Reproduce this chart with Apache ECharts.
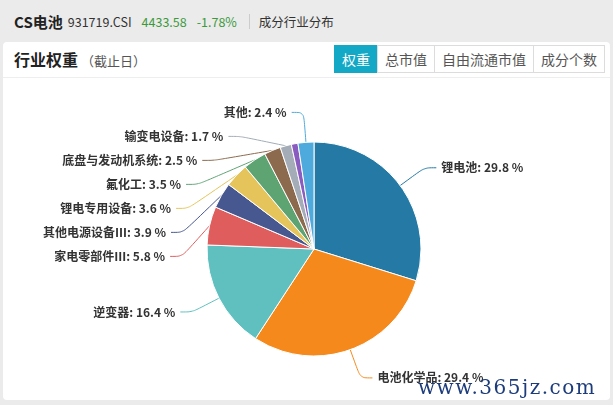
<!DOCTYPE html>
<html><head><meta charset="utf-8">
<script src="https://cdn.jsdelivr.net/npm/echarts@6/dist/echarts.min.js"></script>
<style>
html,body{margin:0;padding:0;background:#ebebeb;width:613px;height:405px;overflow:hidden;font-family:"Noto Sans CJK SC","Noto Sans",sans-serif;}
#top{position:absolute;left:14px;top:9px;height:20px;line-height:20px;white-space:nowrap;color:#333;}
#top span{display:inline-block;vertical-align:middle}
#panel{position:absolute;left:3px;top:42px;width:607px;height:358px;background:#fff;border-radius:4px;}
#hd{position:absolute;left:0;top:0;width:607px;height:35px;border-bottom:1px solid #eeeeee;}
#ttl{position:absolute;left:11px;top:5px;font-size:16px;font-weight:bold;color:#222;}
#ttl small{font-size:13px;font-weight:normal;color:#555;}
#btns{position:absolute;right:5px;top:3px;display:flex;}
#btns div{height:26px;line-height:26px;padding:0 7px;font-size:14px;color:#555;border:1px solid #dcdcdc;margin-left:-1px;background:#fff}
#btns div.on{background:#12a8c6;color:#fff;border-color:#12a8c6}
#chart{position:absolute;left:0;top:0;width:613px;height:405px;}
#wm{position:absolute;left:418px;top:375px;font-family:"DejaVu Serif",serif;font-size:20px;letter-spacing:1.5px;color:#1c3c7c;}
</style></head>
<body>
<div id="top"><span style="font-weight:bold;font-size:15px;color:#222">CS电池</span><span style="font-size:12.5px;margin-left:5px">931719.CSI</span><span style="font-size:12.5px;color:#3c9a3c;margin-left:10px">4433.58</span><span style="font-size:12.5px;color:#3c9a3c;margin-left:10px">-1.78%</span><span style="width:1px;height:15px;background:#ccc;margin:0 9px 0 12px"></span><span style="font-size:12.5px">成分行业分布</span></div>
<div id="panel"><div id="hd"><div id="ttl">行业权重<small> （截止日）</small></div>
<div id="btns"><div class="on">权重</div><div>总市值</div><div>自由流通市值</div><div>成分个数</div></div></div></div>
<div id="chart"></div>
<div id="wm">www.365jz.com</div>
<script>
const industries = ['锂电池','电池化学品','逆变器','家电零部件Ⅲ','其他电源设备Ⅲ','锂电专用设备','氟化工','底盘与发动机系统','输变电设备','其他电气设备','其他'];
const weights = [29.8, 29.4, 16.4, 5.8, 3.9, 3.6, 3.5, 2.5, 1.7, 1.0, 2.4];
const sliceColors = ['#2479a5','#f5891c','#5fc0bf','#e05d5d','#475790','#e5c55b','#5ea473','#8c6a4e','#a3acb7','#8a5cc0','#4ea9dc'];
const hiddenLabels = ['其他电气设备'];

const chart = echarts.init(document.getElementById('chart'), null, {renderer:'canvas'});
chart.setOption({
  animation:false,
  color: sliceColors,
  series:[{
    type:'pie',
    center:[314,249],
    radius:107,
    startAngle:90,
    itemStyle:{borderColor:'#fff',borderWidth:1},
    label:{
      formatter:'{b}: {c} %',
      fontSize:12,
      lineHeight:22,
      fontWeight:'bold',
      color:'#333',
      fontFamily:'"Noto Sans CJK SC",sans-serif'
    },
    labelLine:{length:30,length2:12,smooth:0.3,lineStyle:{width:1}},
    data: industries.map((n,i)=>({
      name:n, value:weights[i],
      label: hiddenLabels.includes(n)?{show:false}:undefined,
      labelLine: hiddenLabels.includes(n)?{show:false}:undefined
    }))
  }]
});
</script>
</body></html>
